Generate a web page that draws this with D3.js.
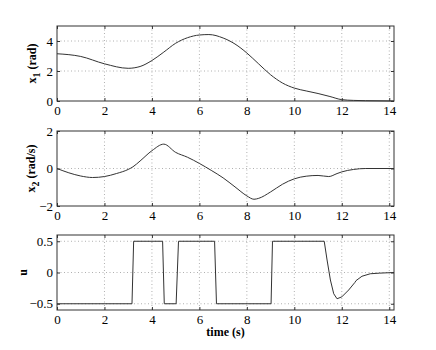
<!DOCTYPE html>
<html>
<head>
<meta charset="utf-8">
<script src="https://cdn.jsdelivr.net/npm/d3@7"></script>
<style>
  body { margin: 0; background: #fff; }
  .chart { width: 436px; height: 350px; }
  svg text { font-family: "Liberation Serif", "Times New Roman", Times, "DejaVu Serif", serif; fill: #000; }
  .tick text { font-size: 13px; }
  .grid line { stroke: #b0b0b0; stroke-dasharray: 1,2.5; }
  .frame { fill: none; stroke: #333; stroke-width: 1; }
  .curve { fill: none; stroke: #333; stroke-width: 1; }
  .label { font-size: 12px; font-weight: bold; }
</style>
</head>
<body>
<div class="chart"></div>
<script>
// time samples and state values
let t1 = [0, 1, 2, 3, 3.5, 4, 4.5, 5, 5.5, 6, 6.4, 7, 7.5, 8, 8.5, 9, 9.5, 10, 10.5, 11, 11.5, 12, 12.5, 13, 14.2];
let x1 = [3.15, 2.97, 2.48, 2.18, 2.3, 2.7, 3.26, 3.85, 4.22, 4.4, 4.43, 4.2, 3.8, 3.2, 2.47, 1.75, 1.2, 0.86, 0.67, 0.5, 0.3, 0.09, 0.04, 0.02, 0];

let t2 = [0, 0.5, 1, 1.5, 2, 2.5, 3, 3.2, 3.5, 4, 4.5, 5, 5.5, 6, 6.5, 7, 7.5, 8, 8.3, 8.5, 9, 9.5, 10, 10.5, 11, 11.45, 11.8, 12, 12.5, 13, 14.2];
let x2 = [0, -0.23, -0.4, -0.48, -0.43, -0.27, -0.05, 0.09, 0.4, 0.95, 1.3, 0.86, 0.6, 0.27, -0.1, -0.5, -0.98, -1.46, -1.64, -1.59, -1.25, -0.84, -0.55, -0.41, -0.37, -0.43, -0.27, -0.18, -0.05, 0, 0];

let tu = [0, 3.16, 3.23, 4.45, 4.52, 5.02, 5.12, 6.64, 6.72, 9.02, 9.08, 11.26, 11.38, 11.52, 11.66, 11.8, 12.0, 12.29, 12.55, 12.6, 12.85, 13.2, 13.6, 14.2];
let u  = [-0.5, -0.5, 0.5, 0.5, -0.5, -0.5, 0.5, 0.5, -0.5, -0.5, 0.5, 0.5, 0.2, -0.12, -0.34, -0.42, -0.39, -0.28, -0.16, -0.13, -0.06, -0.02, -0.01, 0];

let xTicks = [0, 2, 4, 6, 8, 10, 12, 14];

let panels = [
    { t: t1, v: x1, domain: [0, 5], ticks: [0, 2, 4], top: 26, name: "x", sub: "1", unit: " (rad)", lx: 36 },
    { t: t2, v: x2, domain: [-2, 2], ticks: [-2, 0, 2], top: 131, name: "x", sub: "2", unit: " (rad/s)", lx: 35 },
    { t: tu, v: u, domain: [-0.6, 0.6], ticks: [-0.5, 0, 0.5], top: 235, name: "u", sub: "", unit: "", lx: 27 }
];

function init() {
    let left = 57, right = 394, ph = 75;
    let width = right - left;
    let serif = "Liberation Serif, Times New Roman, Times, DejaVu Serif, serif";

    let svg = d3.select(".chart").append("svg")
        .attr("width", 436)
        .attr("height", 350);

    let xScale = d3.scaleLinear()
        .range([0, width])
        .domain([0, 14.2]);

    let fmt = d => d3.format("")(d).replace("-", "\u2212");

    panels.forEach(function(p) {
        let yScale = d3.scaleLinear()
            .range([ph, 0])
            .domain(p.domain);

        let plot = svg.append("g")
            .attr("transform", `translate(${left},${p.top})`);

        //dotted grid
        let grid = plot.append("g").attr("class", "grid");
        grid.selectAll(".gx").data(xTicks.filter(d => d > 0)).enter().append("line")
            .attr("x1", d => xScale(d)).attr("x2", d => xScale(d))
            .attr("y1", 0).attr("y2", ph);
        grid.selectAll(".gy").data(p.ticks.filter(d => yScale(d) > 0.5 && yScale(d) < ph - 0.5)).enter().append("line")
            .attr("y1", d => yScale(d)).attr("y2", d => yScale(d))
            .attr("x1", 0).attr("x2", width);

        //axes with inward ticks, MATLAB style
        let xAxis = plot.append("g")
            .attr("transform", `translate(0,${ph})`)
            .call(d3.axisBottom(xScale).tickValues(xTicks).tickSize(-3).tickPadding(5).tickFormat(fmt));
        let yAxis = plot.append("g")
            .call(d3.axisLeft(yScale).tickValues(p.ticks).tickSize(-3).tickPadding(4).tickFormat(fmt));
        plot.append("g")
            .call(d3.axisTop(xScale).tickValues(xTicks).tickSize(-3).tickFormat(""));
        plot.append("g")
            .attr("transform", `translate(${width},0)`)
            .call(d3.axisRight(yScale).tickValues(p.ticks).tickSize(-3).tickFormat(""));

        plot.selectAll(".domain").remove();
        plot.selectAll(".tick line").attr("stroke", "#333");
        xAxis.attr("font-family", serif).attr("font-size", 13);
        yAxis.attr("font-family", serif).attr("font-size", 13);

        plot.append("rect").attr("class", "frame")
            .attr("x", 0).attr("y", 0).attr("width", width).attr("height", ph);

        let line = d3.line()
            .x((d, i) => xScale(p.t[i]))
            .y(d => yScale(d))
            .curve(p.name === "u" ? d3.curveLinear : d3.curveMonotoneX);

        plot.append("path").attr("class", "curve")
            .attr("d", line(p.v));

        //y label
        let lab = svg.append("text").attr("class", "label")
            .attr("text-anchor", "middle")
            .attr("transform", `translate(${p.lx},${p.top + ph / 2}) rotate(-90)`);
        lab.append("tspan").text(p.name);
        if (p.sub) {
            lab.append("tspan").attr("dy", 4).attr("font-size", 10).text(p.sub);
            lab.append("tspan").attr("dy", -4).text(p.unit);
        }
    });

    svg.append("text").attr("class", "label")
        .attr("text-anchor", "middle")
        .attr("x", left + xScale(7.1))
        .attr("y", 336)
        .text("time (s)");
}

init();
</script>
</body>
</html>
